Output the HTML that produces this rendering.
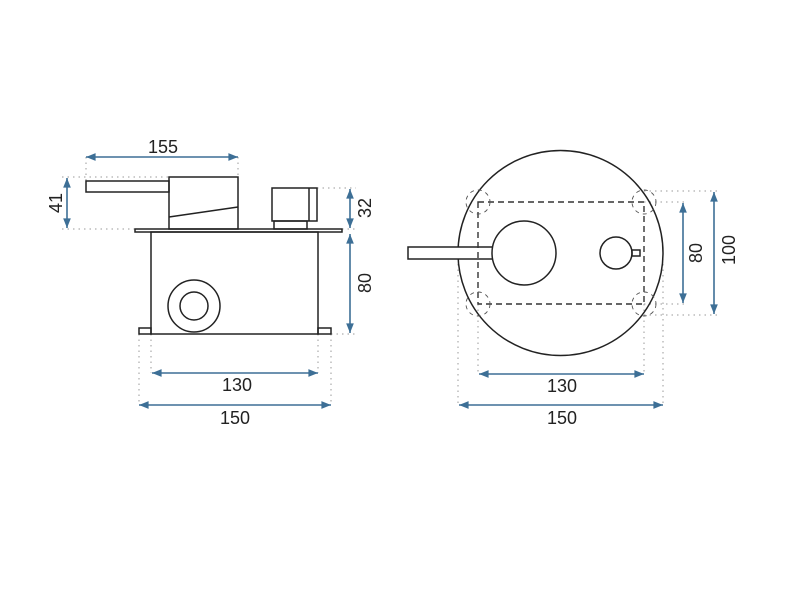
<!DOCTYPE html>
<html><head><meta charset="utf-8"><style>html,body{margin:0;padding:0;background:#fff}</style></head><body>
<svg width="800" height="599" viewBox="0 0 800 599" xmlns="http://www.w3.org/2000/svg" font-family="Liberation Sans, sans-serif" font-size="18" fill="none">
<defs>
<marker id="a" viewBox="0 0 10 10" refX="10" refY="5" markerWidth="8" markerHeight="6" orient="auto-start-reverse"><path d="M0,1 L10,5 L0,9 z" fill="#3d6f96"/></marker>
</defs>
<g stroke="#999" stroke-width="1" stroke-dasharray="1.5,4">
<line x1="86" y1="157" x2="86" y2="181"/><line x1="238" y1="157" x2="238" y2="177"/>
<line x1="62" y1="177" x2="169" y2="177"/><line x1="62" y1="229" x2="135" y2="229"/>
<line x1="317" y1="188" x2="356" y2="188"/><line x1="342" y1="229" x2="356" y2="229"/>
<line x1="331" y1="334" x2="356" y2="334"/>
<line x1="139" y1="334" x2="139" y2="405"/><line x1="331" y1="334" x2="331" y2="405"/>
<line x1="151" y1="334" x2="151" y2="373"/><line x1="318" y1="334" x2="318" y2="373"/>
<line x1="644" y1="202" x2="688" y2="202"/><line x1="644" y1="304" x2="688" y2="304"/>
<line x1="644" y1="191" x2="718" y2="191"/><line x1="644" y1="315" x2="718" y2="315"/>
<line x1="478" y1="304" x2="478" y2="374"/><line x1="644" y1="304" x2="644" y2="374"/>
<line x1="458" y1="253" x2="458" y2="405"/><line x1="663" y1="253" x2="663" y2="405"/>
</g>
<g stroke="#222" stroke-width="1.5">
<rect x="86" y="181" width="83" height="11"/>
<rect x="169" y="177" width="69" height="52"/>
<line x1="169" y1="217" x2="238" y2="207"/>
<rect x="135" y="229" width="207" height="3"/>
<rect x="151" y="232" width="167" height="102"/>
<rect x="139" y="328" width="12" height="6"/><rect x="318" y="328" width="13" height="6"/>
<circle cx="194" cy="306" r="26"/><circle cx="194" cy="306" r="14"/>
<rect x="272" y="188" width="45" height="33"/><line x1="309" y1="188" x2="309" y2="221"/>
<rect x="274" y="221" width="33" height="8"/>
<circle cx="560.5" cy="253" r="102.5"/>
<rect x="408" y="247" width="85" height="12" fill="#fff"/>
<circle cx="524" cy="253" r="32" fill="#fff"/>
<circle cx="616" cy="253" r="16"/>
<rect x="632" y="250" width="8" height="6"/>
</g>
<rect x="478" y="202" width="166" height="102" stroke="#333" stroke-width="1.4" stroke-dasharray="6,4"/>
<g stroke="#555" stroke-width="0.9" stroke-dasharray="4,4">
<circle cx="478" cy="202" r="12"/><circle cx="644" cy="202" r="12"/><circle cx="478" cy="304" r="12"/><circle cx="644" cy="304" r="12"/>
</g>
<g stroke="#3d6f96" stroke-width="1.6" marker-start="url(#a)" marker-end="url(#a)">
<line x1="86" y1="157" x2="238" y2="157"/>
<line x1="67" y1="178" x2="67" y2="228"/>
<line x1="350" y1="189" x2="350" y2="228"/>
<line x1="350" y1="234" x2="350" y2="333"/>
<line x1="152" y1="373" x2="318" y2="373"/>
<line x1="139" y1="405" x2="331" y2="405"/>
<line x1="683" y1="203" x2="683" y2="303"/>
<line x1="714" y1="192" x2="714" y2="314"/>
<line x1="479" y1="374" x2="644" y2="374"/>
<line x1="459" y1="405" x2="663" y2="405"/>
</g>
<g fill="#222" text-anchor="middle">
<text x="163" y="153">155</text>
<text x="237" y="391">130</text>
<text x="235" y="424">150</text>
<text x="562" y="392">130</text>
<text x="562" y="424">150</text>
<text transform="translate(62,203) rotate(-90)">41</text>
<text transform="translate(371,208) rotate(-90)">32</text>
<text transform="translate(371,283) rotate(-90)">80</text>
<text transform="translate(702,253) rotate(-90)">80</text>
<text transform="translate(735,250) rotate(-90)">100</text>
</g>
</svg>
</body></html>
